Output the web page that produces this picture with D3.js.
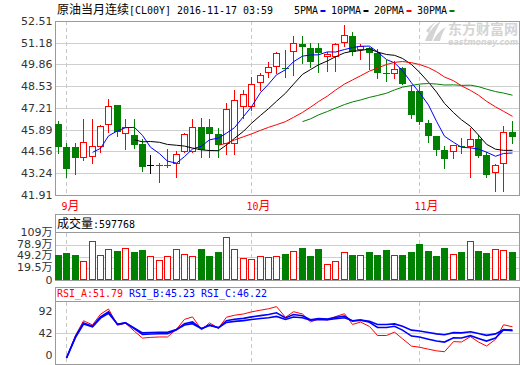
<!DOCTYPE html>
<html><head><meta charset="utf-8">
<script src="https://cdn.jsdelivr.net/npm/d3@7"></script>
<style>
body{margin:0;background:#fff}
svg{display:block}
text{white-space:pre}
</style>
</head><body>
<div class="chart"></div>
<script>
// 原油当月连续 (CL00Y) daily candles
const dates = ["2016-08-31",
  "2016-09-01","2016-09-02","2016-09-05","2016-09-06","2016-09-07","2016-09-08","2016-09-09",
  "2016-09-12","2016-09-13","2016-09-14","2016-09-15","2016-09-16",
  "2016-09-19","2016-09-20","2016-09-21","2016-09-22","2016-09-23",
  "2016-09-26","2016-09-27","2016-09-28","2016-09-29","2016-09-30",
  "2016-10-03","2016-10-04","2016-10-05","2016-10-06","2016-10-07",
  "2016-10-11","2016-10-12","2016-10-13","2016-10-14",
  "2016-10-17","2016-10-18","2016-10-19","2016-10-20","2016-10-21",
  "2016-10-24","2016-10-25","2016-10-26","2016-10-27","2016-10-28","2016-10-31",
  "2016-11-01","2016-11-02","2016-11-03","2016-11-04","2016-11-07","2016-11-08",
  "2016-11-09","2016-11-10","2016-11-11","2016-11-14","2016-11-15","2016-11-16"];

const opens = [46.24,44.83,44.83,44.18,44.20,44.83,46.17,47.39,45.61,45.57,
  45.02,43.72,43.72,43.73,43.78,44.51,44.51,46.03,46.03,45.63,
  45.00,45.00,47.25,47.25,48.71,49.32,49.69,49.63,50.64,51.11,
  50.87,50.85,50.30,50.34,51.15,51.60,50.74,50.85,50.54,49.36,
  49.28,49.63,48.25,48.25,46.28,45.50,44.65,44.51,44.91,44.85,
  45.32,44.35,43.23,43.78,45.73];
const highs = [46.42,45.10,45.10,46.54,46.54,46.15,47.76,47.39,46.54,46.54,
  45.32,44.35,43.88,44.73,44.59,45.67,46.54,46.58,46.54,45.97,
  47.49,48.33,48.33,49.08,49.32,50.01,50.60,50.76,51.62,51.62,
  51.15,51.15,50.64,51.15,52.27,51.86,51.09,50.95,50.78,50.13,
  50.05,49.73,48.61,48.61,46.48,45.50,44.90,44.96,45.36,45.97,
  45.57,44.55,43.78,46.11,46.42];
const lows = [44.49,43.03,43.17,44.04,43.84,44.55,45.77,45.52,44.73,44.75,
  43.39,43.27,42.72,43.64,43.03,44.51,44.51,44.20,44.25,44.25,
  44.39,44.39,46.58,47.09,48.31,49.12,49.32,49.12,49.22,49.93,
  49.73,49.42,49.48,49.48,51.01,50.44,50.18,49.61,49.02,48.88,
  49.02,48.67,46.62,46.22,45.16,44.35,43.58,44.14,44.45,43.03,
  44.24,43.03,42.17,42.17,45.06];
const closes = [44.85,43.51,44.18,45.12,44.87,46.09,47.31,45.73,46.05,44.96,
  43.64,43.72,43.76,43.76,44.39,45.61,46.03,44.65,45.65,44.94,
  47.13,47.68,48.04,48.67,49.22,49.69,50.54,49.57,51.15,50.91,
  50.03,50.58,50.48,51.09,51.66,50.64,50.99,50.54,49.32,49.32,
  49.61,48.67,46.78,46.38,45.52,44.65,44.10,44.96,44.88,45.32,
  44.29,43.13,43.74,45.73,45.46];
// 成交量, in 万
const volumes = [53.0,58.0,53.0,37.9,88.2,52.3,68.1,63.1,70.6,60.6,
  65.6,49.7,40.5,49.7,68.1,55.5,49.7,68.1,50.5,60.6,
  98.2,68.1,45.5,43.0,49.7,48.0,49.7,56.3,63.1,71.4,
  50.5,68.1,29.6,37.9,60.6,53.0,52.3,60.6,53.0,65.6,
  53.0,53.0,60.6,81.4,63.1,50.5,70.6,55.5,60.6,87.4,
  63.1,58.0,68.1,65.6,59.7768];

// moving averages, each series ends on the last day
const ma5 = [44.51,44.75,45.51,45.82,46.01,46.03,45.54,44.82,44.43,43.97,
  43.85,44.25,44.71,44.89,45.27,45.38,45.68,46.01,46.69,47.29,
  48.15,48.66,49.23,49.54,50.03,50.37,50.44,50.45,50.63,50.62,
  50.77,50.89,50.97,50.98,50.63,50.16,49.96,49.49,48.74,48.15,
  47.39,46.40,45.49,45.12,44.82,44.78,44.71,44.52,44.27,44.44,44.47];
const ma10 = [45.27,45.15,45.17,45.12,44.99,44.94,44.89,44.77,44.66,44.62,
  44.61,44.96,45.36,45.79,46.28,46.76,47.17,47.62,48.11,48.66,
  49.26,49.55,49.84,50.08,50.33,50.57,50.67,50.71,50.81,50.62,
  50.47,50.42,50.23,49.86,49.39,48.78,48.18,47.49,46.93,46.49,
  46.09,45.56,45.00,44.70,44.63,44.63];
const ma20 = [44.94,45.06,45.26,45.46,45.63,45.85,46.03,46.19,46.38,46.64,
  46.94,47.26,47.60,47.94,48.30,48.67,48.92,49.17,49.46,49.64,
  49.86,49.99,50.04,49.97,49.86,49.67,49.42,49.10,48.87,48.56,
  48.28,47.99,47.62,47.28,47.01,46.70];
const ma30 = [46.38,46.55,46.79,47.00,47.20,47.42,47.58,47.70,47.86,47.97,
  48.11,48.31,48.48,48.58,48.67,48.70,48.67,48.61,48.62,48.59,
  48.60,48.51,48.36,48.21,48.12,47.99];

// RSI 6 / 12 / 24
const rsiA = [0,37.5,61.7,54.9,72.6,81.3,54.3,57.7,44.2,33.0,
  34.2,34.9,34.9,47.7,64.1,68.2,47.0,58.3,49.3,67.7,
  70.9,73.0,76.5,79.3,81.6,85.2,67.4,76.8,73.0,59.8,
  64.6,62.9,68.7,73.4,55.6,59.6,52.3,37.3,37.3,42.9,
  31.9,19.7,17.9,14.6,11.9,10.4,27.2,26.6,35.4,26.5,
  19.8,30.8,55.1,51.79];
const rsiB = [0,35.3,58.0,52.6,68.2,76.6,55.8,58.3,48.2,39.2,
  39.9,40.3,40.3,46.9,56.9,59.8,48.3,55.1,50.0,61.9,
  64.2,65.7,68.2,70.3,72.0,74.9,66.4,72.1,70.1,63.3,
  65.6,64.8,67.4,69.7,61.2,62.9,59.3,50.7,50.7,52.6,
  46.2,36.4,34.7,31.2,28.2,26.4,33.6,33.2,37.0,32.4,
  28.1,33.2,46.6,45.23];
const rsiC = [0,34.3,56.2,51.5,66.1,74.2,56.1,58.2,49.6,41.7,
  42.3,42.6,42.6,47.3,54.7,56.9,48.8,53.8,50.2,59.0,
  60.8,62.0,63.9,65.5,66.8,69.0,63.9,68.0,66.8,62.6,
  64.1,63.6,65.2,66.7,61.9,62.8,60.8,55.6,55.6,56.6,
  52.7,46.2,44.9,42.4,40.0,38.6,42.0,41.7,43.5,40.5,
  37.5,40.0,47.0,46.22];

const priceTicks = [52.51,51.18,49.86,48.53,47.21,45.89,44.56,43.24,41.91];
const volTicks = [109,78.9,49.2,19.5,0];
const volTickLabels = ["109万","78.9万","49.2万","19.5万","0"];
const rsiTicks = [92,42,0];
const monthDates = ["2016-09-01","2016-10-03","2016-11-01"];
const monthLabels = ["9月","10月","11月"];

const RED = "#ff0000", GREEN = "#008000", BLUE = "#0000ff";

const maSeries = [
  {name: "5PMA", values: ma5, color: BLUE},
  {name: "10PMA", values: ma10, color: "#000"},
  {name: "20PMA", values: ma20, color: RED},
  {name: "30PMA", values: ma30, color: GREEN}
];
const rsiSeries = [
  {name: "RSI_A", values: rsiA, color: RED, width: 1},
  {name: "RSI_B", values: rsiB, color: BLUE, width: 1.6},
  {name: "RSI_C", values: rsiC, color: BLUE, width: 1.6}
];

const W = 520, H = 365;
const left = 55.5, right = 519.5;

const svg = d3.select(".chart").append("svg")
  .attr("width", W)
  .attr("height", H);

const x = d3.scaleBand().domain(dates).range([54.3, 516.3]);
const cx = d => Math.floor(x(d) + x.bandwidth() / 2);
const yP = d3.scaleLinear().domain([41.91, 52.51]).range([195, 21]);
const yV = d3.scaleLinear().domain([-9.8, 109]).range([280, 232.7]);
const yR = d3.scaleLinear().domain([0, 100]).range([358, 297.7]);
const crisp = v => Math.round(v) + 0.5;

// bitmap-font look: CJK glyphs 12px wide, latin glyphs 6px wide
function monoText(g, x0, y0, str, color) {
  const runs = [];
  for (const ch of str) {
    const wide = ch.charCodeAt(0) > 255;
    const last = runs[runs.length - 1];
    if (last && last.wide === wide) last.s += ch; else runs.push({wide: wide, s: ch});
  }
  let px = x0;
  runs.forEach(r => {
    const w = [...r.s].length * (r.wide ? 12 : 6);
    const t = g.append("text").attr("x", px).attr("y", y0).attr("fill", color).text(r.s);
    if (r.wide) {
      t.attr("font-family", "'Noto Sans CJK SC'").attr("font-size", 12);
    } else {
      t.attr("font-family", "'DejaVu Sans Mono'").attr("font-size", 11)
        .attr("textLength", w).attr("lengthAdjust", "spacingAndGlyphs");
    }
    px += w;
  });
  return px;
}

// gridlines
const grid = svg.append("g").attr("stroke", "#cfcfcf").attr("shape-rendering", "crispEdges");
grid.selectAll(".gp").data(priceTicks.slice(1, -1)).enter().append("line")
  .attr("x1", left).attr("x2", right)
  .attr("y1", d => crisp(yP(d))).attr("y2", d => crisp(yP(d)));
grid.selectAll(".gv").data(volTicks.slice(1, -1)).enter().append("line")
  .attr("x1", left).attr("x2", right)
  .attr("y1", d => crisp(yV(d))).attr("y2", d => crisp(yV(d)));
grid.selectAll(".gr").data(rsiTicks.slice(1, -1)).enter().append("line")
  .attr("x1", left).attr("x2", right)
  .attr("y1", d => crisp(yR(d))).attr("y2", d => crisp(yR(d)));

// month separators
const bands = [[21, 195], [233, 280], [302, 364]];
monthDates.forEach(d => {
  bands.forEach(b => {
    svg.append("line")
      .attr("x1", cx(d) + 0.5).attr("x2", cx(d) + 0.5)
      .attr("y1", b[0]).attr("y2", b[1])
      .attr("stroke", "#c8c8c8")
      .attr("stroke-dasharray", "4,3")
      .attr("shape-rendering", "crispEdges");
  });
});

// watermark
const wm = svg.append("g").attr("fill", "#d4d4d4");
wm.append("path").attr("d", "M425,41 C428,33 433,26 441,21 C437,28 434,34 432,41 Z");
wm.append("path").attr("d", "M433,41 C436,35 440,30 446,27 C443,32 441,36 440,41 Z");
wm.append("path").attr("d", "M426,31 C429,27 432,24 436,22 C432,26 430,29 429,33 Z");
wm.append("text").attr("x", 448).attr("y", 33.5)
  .attr("font-family", "'Noto Sans CJK SC'").attr("font-weight", "bold").attr("font-size", 13.5)
  .attr("textLength", 70).attr("lengthAdjust", "spacingAndGlyphs")
  .text("东方财富网");
wm.append("text").attr("x", 448).attr("y", 45)
  .attr("font-family", "'DejaVu Sans'").attr("font-weight", "bold").attr("font-style", "italic")
  .attr("font-size", 8).attr("textLength", 70).attr("lengthAdjust", "spacingAndGlyphs")
  .text("eastmoney.com");

// panel frames
const frames = svg.append("g").attr("fill", "none").attr("stroke", "#9a9a9a")
  .attr("shape-rendering", "crispEdges");
frames.append("rect").attr("x", left).attr("y", 21.5).attr("width", right - left).attr("height", 174);
frames.append("rect").attr("x", left).attr("y", 214.5).attr("width", right - left).attr("height", 66);
frames.append("line").attr("x1", left).attr("x2", right).attr("y1", 232.5).attr("y2", 232.5);
frames.append("rect").attr("x", left).attr("y", 287.5).attr("width", right - left).attr("height", 77);
frames.append("line").attr("x1", left).attr("x2", right).attr("y1", 301.5).attr("y2", 301.5);

// candles
const candles = dates.map((d, i) => ({
  date: d, open: opens[i], high: highs[i], low: lows[i], close: closes[i], volume: volumes[i]
}));
const colorOf = c => c.close > c.open ? RED : c.close < c.open ? GREEN : "#000";

const cg = svg.append("g").attr("shape-rendering", "crispEdges");
const candle = cg.selectAll(".candle").data(candles).enter().append("g").attr("class", "candle");
candle.append("line")
  .attr("x1", d => cx(d.date) + 0.5).attr("x2", d => cx(d.date) + 0.5)
  .attr("y1", d => Math.round(yP(d.high))).attr("y2", d => Math.round(yP(d.low)) + 1)
  .attr("stroke", colorOf);
candle.each(function (d) {
  const g = d3.select(this);
  const top = Math.round(yP(Math.max(d.open, d.close)));
  const bot = Math.round(yP(Math.min(d.open, d.close)));
  const c = cx(d.date);
  if (d.close < d.open) {
    g.append("rect").attr("x", c - 3).attr("y", top).attr("width", 7)
      .attr("height", Math.max(1, bot - top)).attr("fill", GREEN);
  } else if (bot - top >= 2) {
    g.append("rect").attr("x", c - 2.5).attr("y", top + 0.5).attr("width", 6)
      .attr("height", bot - top - 1).attr("fill", "#fff").attr("stroke", RED);
  } else {
    g.append("line").attr("x1", c - 3).attr("x2", c + 4)
      .attr("y1", top + 0.5).attr("y2", top + 0.5).attr("stroke", colorOf(d));
  }
});

// volume bars
const vg = svg.append("g").attr("shape-rendering", "crispEdges");
candles.forEach(d => {
  const c = cx(d.date), top = Math.round(yV(d.volume));
  if (d.close >= d.open) {
    vg.append("rect").attr("x", c - 2.5).attr("y", top + 0.5).attr("width", 6)
      .attr("height", 279 - top).attr("fill", "#fff").attr("stroke", RED);
  } else {
    vg.append("rect").attr("x", c - 3).attr("y", top).attr("width", 7)
      .attr("height", 280 - top).attr("fill", GREEN);
  }
});

// moving averages
maSeries.forEach(s => {
  const off = dates.length - s.values.length;
  svg.append("path")
    .datum(s.values)
    .attr("fill", "none")
    .attr("stroke", s.color)
    .attr("stroke-width", 1)
    .attr("d", d3.line().x((v, k) => cx(dates[off + k]) + 0.5).y(v => yP(v)));
});

// rsi lines
rsiSeries.forEach(s => {
  const off = dates.length - s.values.length;
  svg.append("path")
    .datum(s.values)
    .attr("fill", "none")
    .attr("stroke", s.color)
    .attr("stroke-width", s.width)
    .attr("d", d3.line().x((v, k) => cx(dates[off + k]) + 0.5).y(v => yR(v)));
});

// axis labels
const axis = svg.append("g")
  .attr("font-family", "'DejaVu Sans','Noto Sans CJK SC'")
  .attr("font-size", 11)
  .attr("fill", "#333")
  .attr("text-anchor", "end");
axis.selectAll(".tp").data(priceTicks).enter().append("text")
  .attr("x", 52.5).attr("y", d => yP(d)).attr("dy", "0.36em")
  .text(d => d.toFixed(2));
axis.selectAll(".tv").data(volTicks).enter().append("text")
  .attr("x", 52.5).attr("y", d => d > 0 ? yV(d) - 1 : yV.range()[0]).attr("dy", "0.36em")
  .text((d, i) => volTickLabels[i]);
axis.selectAll(".tr").data(rsiTicks).enter().append("text")
  .attr("x", 52.5).attr("y", d => Math.max(311, Math.min(355, yR(d)))).attr("dy", "0.36em")
  .text(d => d);

// month labels
monthDates.forEach((d, i) => monoText(svg, cx(d) - 4.5, 210, monthLabels[i], RED));

// title + legend
monoText(svg, 57, 14, "原油当月连续[CL00Y] 2016-11-17 03:59", "#000");
let lx = 294;
maSeries.forEach(s => {
  const end = monoText(svg, lx, 14, s.name, "#000");
  svg.append("rect").attr("x", end + 2.5).attr("y", 10).attr("width", 5).attr("height", 2)
    .attr("fill", s.color);
  lx = end + 13;
});

// volume header
monoText(svg, 57, 228, "成交量:" + Math.round(volumes[volumes.length - 1] * 10000), "#000");

// rsi header
rsiSeries.forEach((s, i) => {
  monoText(svg, 57 + i * 72, 297, s.name + ":" + s.values[s.values.length - 1].toFixed(2), s.color);
});
</script>
</body></html>
